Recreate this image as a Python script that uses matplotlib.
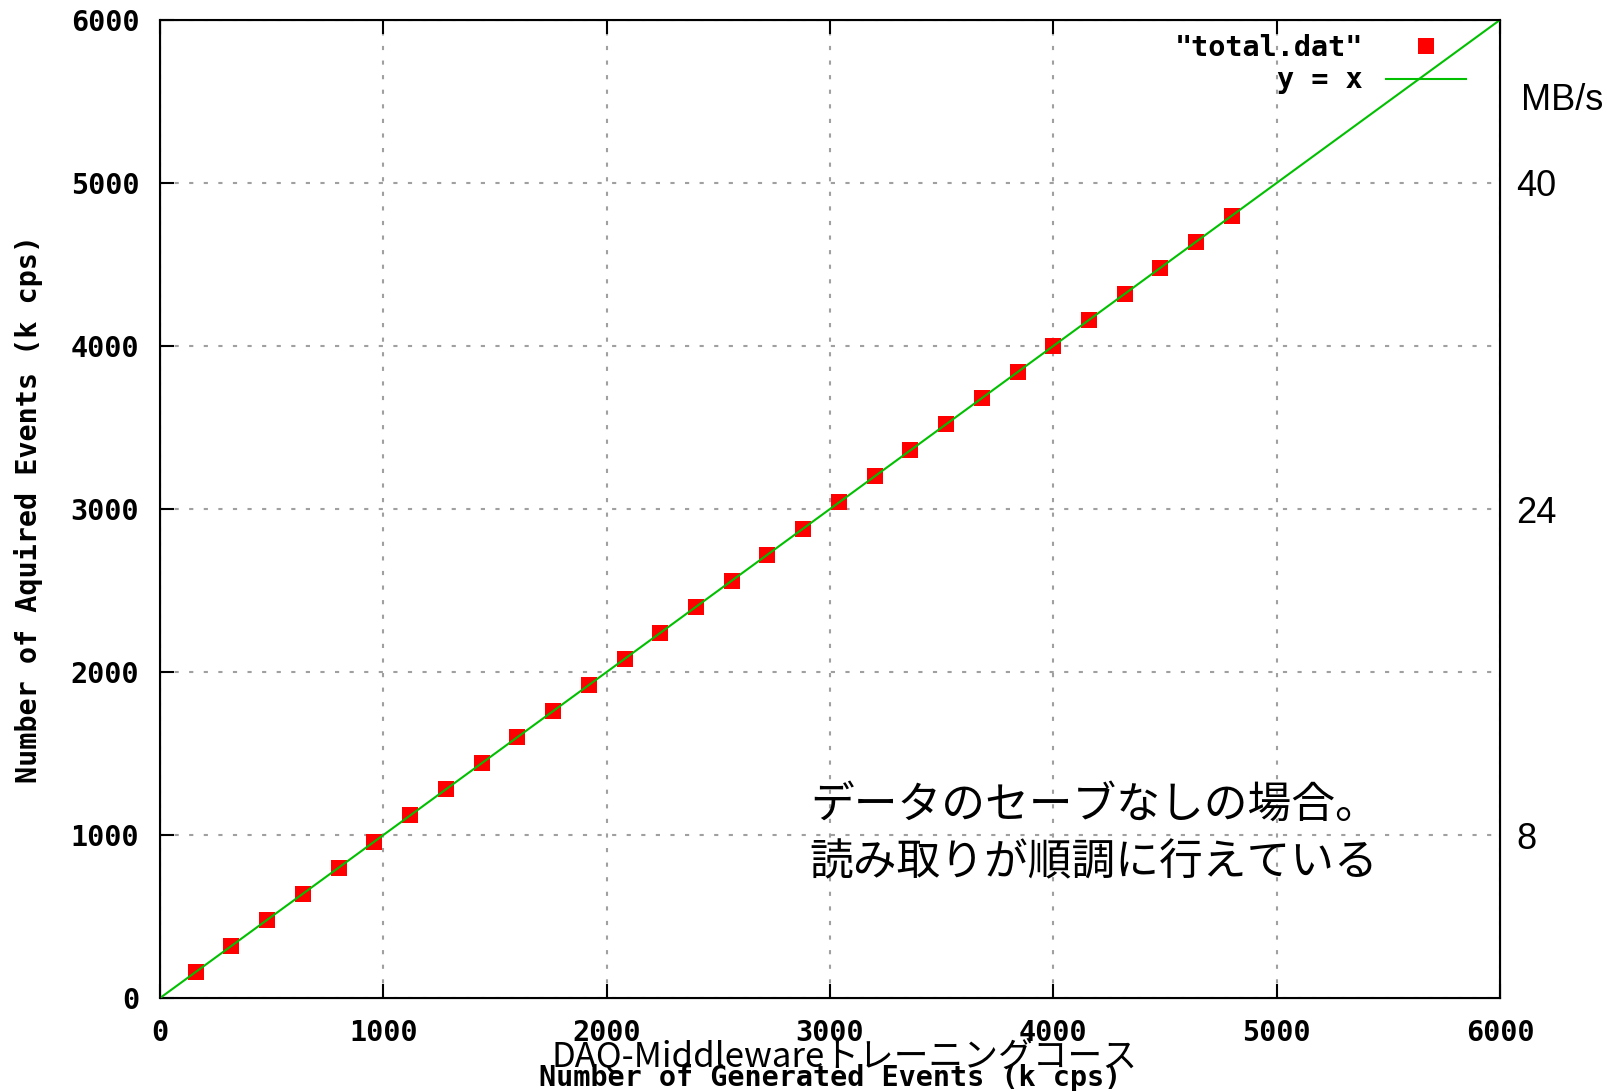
import numpy as np
import matplotlib.pyplot as plt

plt.rcParams['font.family'] = ['DejaVu Sans Mono']

# generated vs acquired events (k cps)
gen_events = [160, 320, 480, 640, 800, 960, 1120, 1280, 1440, 1600,
              1760, 1920, 2080, 2240, 2400, 2560, 2720, 2880, 3040, 3200,
              3360, 3520, 3680, 3840, 4000, 4160, 4320, 4480, 4640, 4800]
acq_events = [160, 320, 480, 640, 800, 960, 1120, 1280, 1440, 1600,
              1760, 1920, 2080, 2240, 2400, 2560, 2720, 2880, 3040, 3200,
              3360, 3520, 3680, 3840, 4000, 4160, 4320, 4480, 4640, 4800]
line_x = [0, 6000]
ticks = [0, 1000, 2000, 3000, 4000, 5000, 6000]
mbs_ticks = [8, 24, 40]
mbs_per_kcps = 0.008

fig = plt.figure(figsize=(16.08, 10.91), dpi=100)
ax = fig.add_axes([0.0995, 0.0852, 0.8333, 0.8965])

ax.plot(gen_events, acq_events, 's', color='#ff0000', markersize=12,
        markeredgewidth=0, label='"total.dat"', zorder=3)
ax.plot(line_x, line_x, '-', color='#00c000', linewidth=1.5, label='y = x', zorder=4)

ax.set_xlim(0, 6000)
ax.set_ylim(0, 6000)
ax.set_xticks(ticks)
ax.set_yticks(ticks)
ax.tick_params(direction='in', length=10, width=1.5, top=True, right=True,
               labelsize=20.5, pad=15)
for lab in ax.get_xticklabels() + ax.get_yticklabels():
    lab.set_fontweight('bold')
ax.grid(True, color='#a0a0a0', linestyle=(0, (2, 5)), linewidth=1.5)
for s in ax.spines.values():
    s.set_linewidth(1.5)

ax.set_xlabel('Number of Generated Events (k cps)', fontsize=20.5,
              fontweight='bold', labelpad=12)
ax.set_ylabel('Number of Aquired Events (k cps)', fontsize=20.5,
              fontweight='bold', labelpad=20)

leg = ax.legend(loc='upper right', frameon=False, markerfirst=False,
                prop={'weight': 'bold', 'size': 20.5},
                handlelength=2.8, borderaxespad=0.1, labelspacing=0.15,
                bbox_to_anchor=(0.985, 1.0))

# right side MB/s scale
ax2 = ax.twinx()
ax2.set_ylim(0, 6000 * mbs_per_kcps)
ax2.set_yticks(mbs_ticks)
ax2.set_yticklabels([str(t) for t in mbs_ticks], family='Liberation Sans',
                    fontsize=26)
ax2.tick_params(length=0, pad=12)
ax2.text(1.016, 0.918, 'MB/s', transform=ax.transAxes, family='Liberation Sans',
         fontsize=26, va='center', ha='left')

ax.text(0.485, 0.168, 'データのセーブなしの場合。\n読み取りが順調に行えている',
        transform=ax.transAxes, family=['Noto Sans CJK JP', 'DejaVu Sans'],
        fontsize=31.5, va='center', ha='left', linespacing=1.33)

fig.text(0.525, 0.032, 'DAQ-Middlewareトレーニングコース',
         family=['Noto Sans CJK JP', 'DejaVu Sans'], fontsize=25,
         ha='center', va='center')

fig.savefig('out.png', dpi=100)
